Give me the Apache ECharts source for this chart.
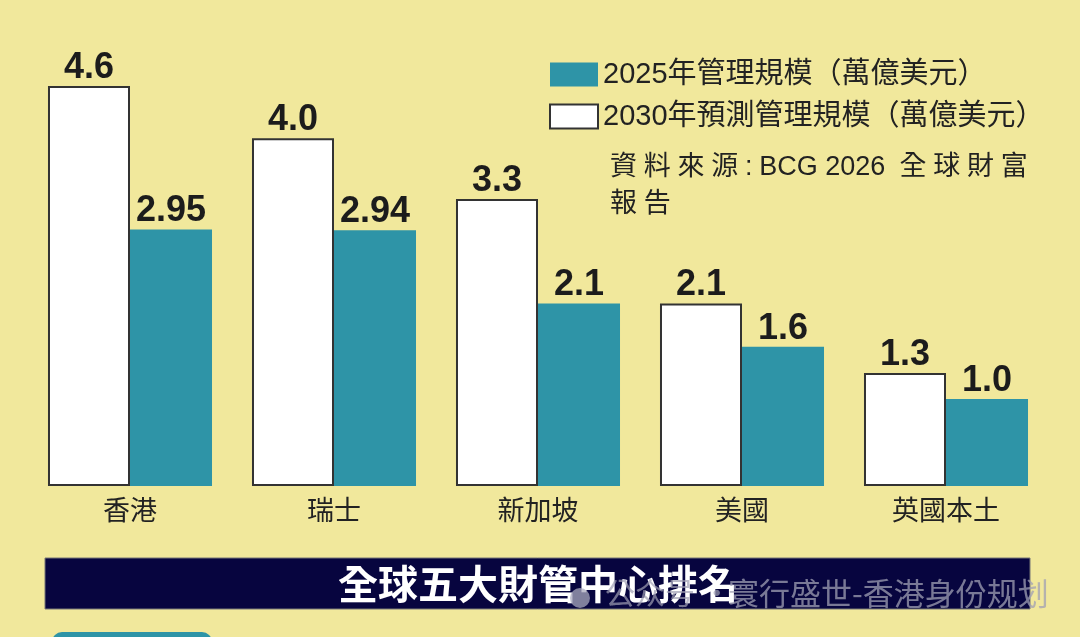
<!DOCTYPE html>
<html>
<head>
<meta charset="utf-8">
<script src="https://cdn.jsdelivr.net/npm/echarts@6/dist/echarts.min.js"></script>
<style>
  html, body { margin: 0; padding: 0; background: #f1e89c; }
  #main { width: 1080px; height: 637px; }
</style>
</head>
<body>
<div id="main"></div>
<script>
var chart = echarts.init(document.getElementById('main')); // 初始化

var cities = ['香港', '瑞士', '新加坡', '美國', '英國本土'];
var aum2030 = [4.6, 4.0, 3.3, 2.1, 1.3];     // 2030年預測
var aum2025 = [2.95, 2.94, 2.1, 1.6, 1.0];   // 2025年
var labels2030 = ['4.6', '4.0', '3.3', '2.1', '1.3'];
var labels2025 = ['2.95', '2.94', '2.1', '1.6', '1.0'];
var seriesNames = ['2025年管理規模（萬億美元）', '2030年預測管理規模（萬億美元）'];

var TEAL = '#2e94a7';
var CJK = '"Noto Sans CJK TC", "Noto Sans CJK SC", sans-serif';
var MIX = '"Liberation Sans", "Noto Sans CJK TC", sans-serif';
var SP = '\u2005'; // 字距

var option = {
    backgroundColor: '#f1e89c',
    animation: false,
    grid: {
        left: 28,
        right: 32,
        top: 86,
        bottom: 151
    },
    legend: {
        orient: 'vertical',
        left: 544,
        top: 55,
        itemWidth: 48,
        itemHeight: 24,
        itemGap: 13,
        icon: 'rect',
        data: [seriesNames[0], seriesNames[1]],
        textStyle: {
            color: '#222',
            fontSize: 29,
            fontFamily: MIX
        }
    },
    xAxis: {
        type: 'category',
        data: cities,
        axisLine: { show: false },
        axisTick: { show: false },
        axisLabel: {
            color: '#222',
            fontSize: 27,
            margin: 10,
            fontFamily: CJK
        }
    },
    yAxis: {
        type: 'value',
        min: 0,
        max: 4.6,
        show: false,
        splitLine: { show: false }
    },
    series: [{
            name: seriesNames[1],
            type: 'bar',
            data: aum2030,
            barGap: '0%',
            barCategoryGap: '19.6%',
            itemStyle: {
                color: '#ffffff',
                borderColor: '#333',
                borderWidth: 2
            },
            label: {
                show: true,
                position: 'top',
                distance: 0,
                color: '#1c1c1c',
                fontSize: 36,
                fontWeight: 'bold',
                fontFamily: MIX,
                formatter: function(p) {
                    return labels2030[p.dataIndex];
                }
            }
        },
        {
            name: seriesNames[0],
            type: 'bar',
            data: aum2025,
            barGap: '0%',
            barCategoryGap: '19.6%',
            itemStyle: {
                color: TEAL
            },
            label: {
                show: true,
                position: 'top',
                distance: 0,
                color: '#1c1c1c',
                fontSize: 36,
                fontWeight: 'bold',
                fontFamily: MIX,
                formatter: function(p) {
                    return labels2025[p.dataIndex];
                }
            }
        }
    ],
    graphic: [{
            type: 'text',
            left: 610,
            top: 149,
            style: {
                text: ['資', '料', '來', '源'].join(SP) + SP + ':' + SP + 'BCG 2026' + SP + ' ' + ['全', '球', '財', '富'].join(SP) +
                    '\n' + '報' + SP + '告',
                fill: '#222',
                font: '27px ' + MIX,
                lineHeight: 37
            }
        },
        {
            type: 'rect',
            shape: { x: 45, y: 558, width: 985, height: 51 },
            style: { fill: '#07053f', stroke: '#777', lineWidth: 1 }
        },
        {
            type: 'text',
            x: 538,
            y: 584,
            style: {
                text: '全球五大財管中心排名',
                fill: '#ffffff',
                font: 'bold 40px ' + CJK,
                align: 'center',
                verticalAlign: 'middle'
            }
        },
        // 水印
        {
            type: 'circle',
            shape: { cx: 580, cy: 598, r: 10 },
            style: { fill: 'rgba(170,170,190,0.75)' }
        },
        {
            type: 'text',
            x: 605,
            y: 593,
            style: {
                text: '公众号 ·',
                fill: 'rgba(160,160,180,0.7)',
                font: '30px ' + CJK,
                verticalAlign: 'middle'
            }
        },
        {
            type: 'text',
            x: 728,
            y: 593,
            style: {
                text: '寰行盛世-香港身份规划',
                fill: 'rgba(160,160,180,0.75)',
                font: '31px ' + CJK,
                verticalAlign: 'middle'
            }
        },
        {
            type: 'rect',
            shape: { x: 52, y: 632, width: 160, height: 20, r: 10 },
            style: { fill: TEAL }
        }
    ]
};

chart.setOption(option);
</script>
</body>
</html>
